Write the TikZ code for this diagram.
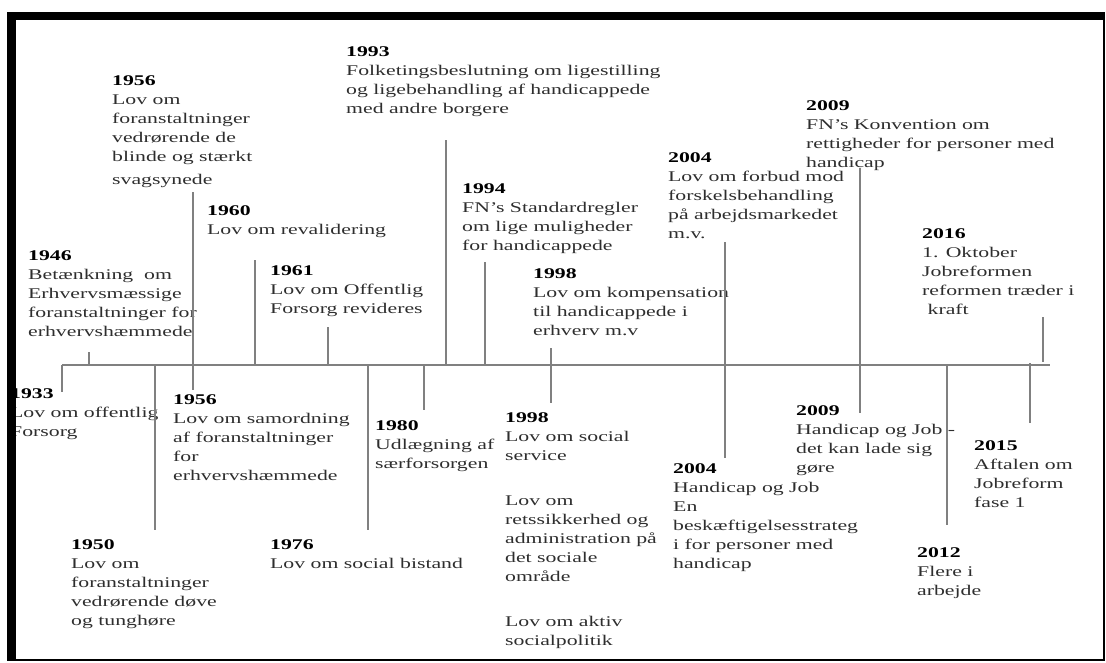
\documentclass[tikz,border=0pt]{standalone}
\usepackage{fontspec}
\setmainfont{Liberation Serif}[FakeStretch=1.47]
\definecolor{tickgray}{RGB}{128,128,128}
\newcommand{\EventYear}[1]{\textbf{\color{black}#1}}

\begin{document}
\begin{tikzpicture}[x=1pt,y=-1pt]
\useasboundingbox (0,0) rectangle (1106,662);

\tikzset{EventStyle/.style = {anchor=north west, inner sep=0pt, align=left, text=black!82,
    font=\fontsize{14.8}{19}\selectfont}}
\tikzset{TickStyle/.style = {draw=tickgray, line width=2.4pt}}
\tikzset{AxisStyle/.style = {draw=tickgray, line width=2.6pt}}

% events above and below the line
\node[EventStyle] (t1933) at (10,388) {\EventYear{1933}\\Lov om offentlig\\Forsorg};
\node[EventStyle] (t1946) at (28,250) {\EventYear{1946}\\Betænkning\ \ om\\Erhvervsmæssige\\foranstaltninger for\\erhvervshæmmede};
\node[EventStyle] (t1950) at (71,539) {\EventYear{1950}\\Lov om\\foranstaltninger\\vedrørende døve\\og tunghøre};
\node[EventStyle] (t1956a) at (112,75) {\EventYear{1956}\\Lov om\\foranstaltninger\\vedrørende de\\blinde og stærkt\\[4pt]svagsynede};
\node[EventStyle] (t1956b) at (173,394) {\EventYear{1956}\\Lov om samordning\\af foranstaltninger\\for\\erhvervshæmmede};
\node[EventStyle] (t1960) at (207,205) {\EventYear{1960}\\Lov om revalidering};
\node[EventStyle] (t1961) at (270,265) {\EventYear{1961}\\Lov om Offentlig\\Forsorg revideres};
\node[EventStyle] (t1976) at (270,539) {\EventYear{1976}\\Lov om social bistand};
\node[EventStyle] (t1980) at (375,420) {\EventYear{1980}\\Udlægning af\\særforsorgen};
\node[EventStyle] (t1993) at (346,46) {\EventYear{1993}\\Folketingsbeslutning om ligestilling\\og ligebehandling af handicappede\\med andre borgere};
\node[EventStyle] (t1994) at (462,183) {\EventYear{1994}\\FN’s Standardregler\\om lige muligheder\\for handicappede};
\node[EventStyle] (t1998a) at (533,268) {\EventYear{1998}\\Lov om kompensation\\til handicappede i\\erhverv m.v};
\node[EventStyle] (t1998b) at (505,412) {\EventYear{1998}\\Lov om social\\service\\[26pt]Lov om\\retssikkerhed og\\administration på\\det sociale\\område\\[26pt]Lov om aktiv\\socialpolitik};
\node[EventStyle] (t2004a) at (668,152) {\EventYear{2004}\\Lov om forbud mod\\forskelsbehandling\\på arbejdsmarkedet\\m.v.};
\node[EventStyle] (t2004b) at (673,463) {\EventYear{2004}\\Handicap og Job\\En\\beskæftigelsesstrateg\\i for personer med\\handicap};
\node[EventStyle] (t2009a) at (806,100) {\EventYear{2009}\\FN’s Konvention om\\rettigheder for personer med\\handicap};
\node[EventStyle] (t2009b) at (796,405) {\EventYear{2009}\\Handicap og Job -\\det kan lade sig\\gøre};
\node[EventStyle] (t2012) at (917,547) {\EventYear{2012}\\Flere i\\arbejde};
\node[EventStyle] (t2015) at (974,440) {\EventYear{2015}\\Aftalen om\\Jobreform\\fase 1};
\node[EventStyle] (t2016) at (922,228) {\EventYear{2016}\\1. Oktober\\Jobreformen\\reformen træder i\\\ kraft};

% ticks
\foreach \yr/\x/\ya/\yb in {1933/62/365/392, 1946/89/352/365, 1950/155/365/530,
    1956/193/192/390, 1960/255/260/365, 1961/328/327/365, 1976/368/365/530,
    1980/424/365/410, 1993/446/140/365, 1994/485/262/365, 1998/551/348/403,
    2004/725/242/458, 2009/860/168/413, 2012/947/365/525, 2015/1030/363/423,
    2016/1043/317/362}{
  \coordinate (a\yr) at (\x,\ya);
  \coordinate (b\yr) at (\x,\yb);
  \draw[TickStyle] (a\yr) -- (b\yr);
}

% time axis
\coordinate (start) at (62,365);
\coordinate (end) at (1050,365);
\draw[AxisStyle] (start) -- (end);

% frame
\fill[black] (7,12) rectangle (1105,20);
\fill[black] (7,12) rectangle (16,661);
\draw[black, line width=1.6pt] (16,660) -- (1104,660) -- (1104,20);

\end{tikzpicture}
\end{document}
